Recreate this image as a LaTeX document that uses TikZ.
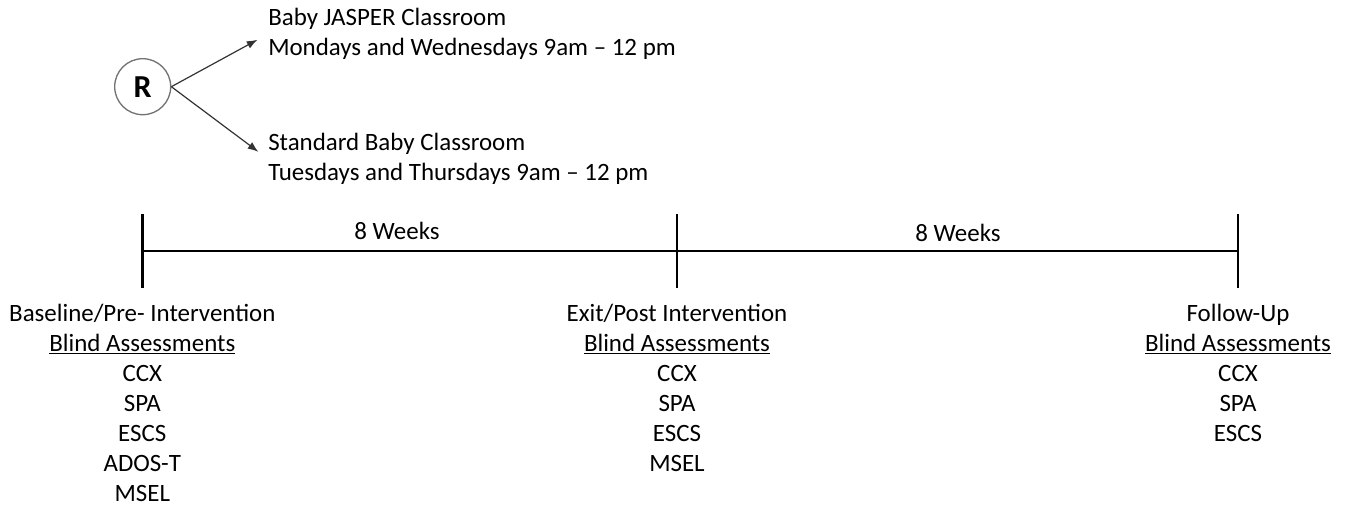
\documentclass[tikz,border=0pt]{standalone}
\usepackage{fontspec}
\setmainfont{Carlito}
\usetikzlibrary{arrows.meta}
\tikzset{
	lbl/.style={font=\fontsize{18.7}{22.5}\selectfont, inner sep=0pt},
	col/.style={lbl, align=center, anchor=north},
	arr/.style={-{Latex[length=8pt,width=6pt]}, black!80, line width=0.9pt, shorten >=9pt},
	bar/.style={line width=2.2pt},
}
\begin{document}
\begin{tikzpicture}[x=0.75pt,y=-0.75pt]
	\useasboundingbox (0,0) rectangle (1350,510);
	% randomisation
	\node [circle,draw=black!55,line width=1pt,minimum size=42pt,inner sep=0pt,font=\fontsize{24}{24}\selectfont\bfseries] (r) at (142.7,86.7) {R};
	\node [lbl,align=left,anchor=west] (a) at (268,34) {Baby JASPER Classroom\\Mondays and Wednesdays 9am -- 12 pm};
	\node [lbl,align=left,anchor=west] (b) at (268,159) {Standard Baby Classroom\\Tuesdays and Thursdays 9am -- 12 pm};
	\draw [arr] (r.east) -- (a.west);
	\draw [arr] (r.east) -- (b.west);
	% timeline
	\coordinate (t0) at (142.3,251);
	\coordinate (t1) at (677,251);
	\coordinate (t2) at (1238,251);
	\draw [bar] (t0) -- (t1) -- (t2);
	\foreach \t in {t0,t1,t2}
		\draw [bar] ([yshift=27.75pt]\t) -- ([yshift=-27.75pt]\t);
	\node [lbl] (w1) at (397,231) {8 Weeks};
	\node [lbl] (w2) at (958,233) {8 Weeks};
	% assessments
	\node [col] (c0) at (142.3,304) {Baseline/Pre- Intervention\\\underline{Blind Assessments}\\CCX\\SPA\\ESCS\\ADOS-T\\MSEL};
	\node [col] (c1) at (677,304) {Exit/Post Intervention\\\underline{Blind Assessments}\\CCX\\SPA\\ESCS\\MSEL};
	\node [col] (c2) at (1238,304) {Follow-Up\\\underline{Blind Assessments}\\CCX\\SPA\\ESCS};
\end{tikzpicture}
\end{document}
